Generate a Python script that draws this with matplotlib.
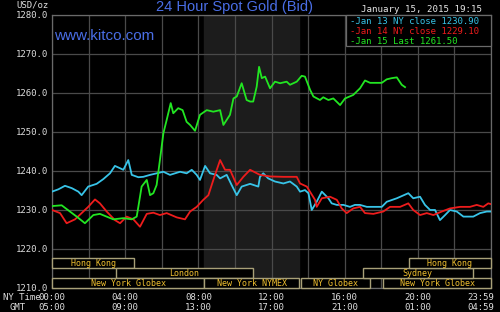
import matplotlib
matplotlib.use('Agg')
import matplotlib.pyplot as plt
from matplotlib.patches import Rectangle

# hours (NY time) and bid prices
cyan_h = [0.0, 0.35, 0.71, 1.08, 1.44, 1.62, 1.98, 2.44, 2.8, 3.17, 3.44, 3.72, 3.9, 4.17, 4.36,
          4.72, 4.99, 5.36, 5.72, 6.09, 6.45, 7.0, 7.36, 7.64, 7.91, 8.09, 8.37, 8.64, 9.0, 9.19,
          9.55, 9.82, 10.1, 10.37, 10.83, 11.28, 11.37, 11.55, 11.82, 12.19, 12.65, 13.01, 13.38, 13.56, 13.83,
          14.02, 14.2, 14.47, 14.75, 15.11, 15.29, 15.57, 15.93, 16.29, 16.56, 16.84, 17.21, 18.03, 18.3, 18.85,
          19.48, 19.75, 20.12, 20.39, 20.67, 20.94, 21.21, 21.49, 21.76, 22.13, 22.49, 23.03, 23.4, 23.77, 24.0]
cyan_v = [1234.7, 1235.3, 1236.2, 1235.6, 1234.7, 1233.8, 1236.0, 1236.7, 1237.9, 1239.4, 1241.3, 1240.7, 1240.3, 1242.8, 1239.0,
          1238.4, 1238.5, 1239.0, 1239.4, 1239.8, 1239.0, 1239.8, 1239.4, 1240.3, 1239.0, 1237.7, 1241.3, 1239.4, 1239.0, 1238.1,
          1239.0, 1236.4, 1233.8, 1236.0, 1236.7, 1236.0, 1238.5, 1239.4, 1238.1, 1237.3, 1236.8, 1237.3, 1236.0, 1234.7, 1235.1,
          1234.3, 1230.0, 1232.1, 1234.7, 1233.0, 1231.7, 1231.3, 1231.3, 1230.8, 1231.3, 1231.3, 1230.8, 1230.8, 1232.1, 1233.0,
          1234.3, 1233.0, 1233.4, 1231.3, 1230.0, 1230.0, 1227.4, 1228.7, 1230.0, 1229.6, 1228.3, 1228.3, 1229.2, 1229.6, 1229.6]

red_h = [0.0, 0.44, 0.8, 1.26, 1.71, 1.98, 2.35, 2.62, 2.99, 3.44, 3.72, 4.08, 4.45, 4.81, 5.18, 5.54,
         5.9, 6.27, 6.82, 7.27, 7.55, 7.91, 8.27, 8.55, 8.82, 9.19, 9.46, 9.73, 10.1, 10.46, 10.83, 11.37,
         11.92, 12.65, 13.38, 13.56, 13.93, 14.38, 14.47, 14.75, 15.2, 15.57, 15.84, 16.11, 16.47, 16.84, 17.11, 17.57,
         18.11, 18.48, 19.03, 19.48, 19.75, 20.12, 20.49, 20.85, 21.31, 21.76, 22.31, 22.85, 23.22, 23.58, 23.85, 24.0]
red_v = [1230.0, 1229.2, 1226.6, 1227.6, 1229.6, 1230.8, 1232.7, 1231.7, 1229.6, 1227.4, 1226.6, 1228.3, 1227.6, 1225.7, 1229.0, 1229.3,
         1228.7, 1229.2, 1228.1, 1227.6, 1229.6, 1230.8, 1232.6, 1233.8, 1237.7, 1242.8, 1240.3, 1240.3, 1236.4, 1238.5, 1240.3, 1239.0,
         1238.6, 1238.5, 1238.5, 1236.8, 1236.0, 1232.6, 1230.8, 1233.0, 1233.4, 1232.6, 1230.4, 1229.2, 1230.4, 1230.8, 1229.2, 1229.0,
         1229.6, 1230.8, 1230.8, 1231.7, 1230.0, 1228.7, 1229.2, 1228.7, 1229.6, 1230.4, 1230.8, 1230.8, 1231.3, 1230.8, 1231.7, 1231.5]

green_h = [0.0, 0.53, 0.98, 1.35, 1.8, 2.26, 2.62, 3.35, 3.9, 4.36, 4.63, 4.72, 4.9, 5.18, 5.36, 5.54, 5.72,
           5.9, 6.09, 6.27, 6.49, 6.63, 6.9, 7.14, 7.36, 7.55, 7.82, 8.09, 8.46, 8.82, 9.19, 9.37, 9.73,
           9.92, 10.1, 10.37, 10.64, 10.83, 11.0, 11.19, 11.32, 11.47, 11.65, 11.92, 12.19, 12.47, 12.83, 13.01, 13.38,
           13.65, 13.83, 14.11, 14.29, 14.65, 14.83, 15.11, 15.38, 15.75, 16.02, 16.47, 16.84, 17.11, 17.39, 18.03, 18.3,
           18.57, 18.85, 19.12, 19.3]
green_v = [1231.0, 1231.2, 1229.6, 1228.3, 1226.6, 1228.7, 1229.0, 1227.6, 1227.9, 1227.6, 1228.3, 1230.8, 1236.0, 1237.7, 1233.8, 1234.3, 1236.4,
           1242.8, 1249.7, 1253.1, 1257.4, 1254.8, 1256.1, 1255.6, 1252.6, 1251.8, 1250.3, 1254.4, 1255.6, 1255.2, 1255.6, 1251.8, 1254.4,
           1258.6, 1259.1, 1262.5, 1258.2, 1257.8, 1257.8, 1261.6, 1266.7, 1263.8, 1264.2, 1261.2, 1262.9, 1262.5, 1262.9, 1262.1, 1262.9,
           1264.4, 1264.2, 1260.8, 1259.1, 1258.2, 1258.9, 1258.2, 1258.6, 1256.9, 1258.6, 1259.5, 1261.2, 1263.2, 1262.6, 1262.6, 1263.5,
           1263.8, 1264.0, 1262.1, 1261.5]

legend_labels = ['-Jan 13 NY close 1230.90', '-Jan 14 NY close 1229.10', '-Jan 15 Last 1261.50']

# trading sessions: name, row (0 = bottom), start hour, end hour
sessions = [
    ('Hong Kong', 2, 0.0, 4.5),
    ('London', 1, 3.5, 11.0),
    ('New York Globex', 0, 0.0, 8.33),
    ('New York NYMEX', 0, 8.33, 13.5),
    ('NY Globex', 0, 13.62, 17.4),
    ('New York Globex', 0, 18.1, 24.0),
    ('Sydney', 1, 17.0, 23.0),
    ('Hong Kong', 2, 19.5, 24.0),
]
row_edges = [1210.0, 1212.55, 1215.1, 1217.65]

xtick_hours = [0, 4, 8, 12, 16, 20, 24]
xtick_ny = ['00:00', '04:00', '08:00', '12:00', '16:00', '20:00', '23:59']
xtick_gmt = ['05:00', '09:00', '13:00', '17:00', '21:00', '01:00', '04:59']

mono = 'DejaVu Sans Mono'
blue = '#4a6ee6'
cyan = '#38c4e8'
red = '#ee1c1c'
green = '#22e622'
gold = '#f0c030'
boxcol = '#a8a078'

fig = plt.figure(figsize=(5, 3.12), dpi=100, facecolor='black')
ax = fig.add_axes([0.104, 0.077, 0.878, 0.875])
ax.set_facecolor('black')

# NYMEX pit session shading
ax.axvspan(8.33, 13.5, color='#1c1c1c', zorder=0)

ax.plot(cyan_h, cyan_v, color=cyan, lw=1.3, zorder=3)
ax.plot(red_h, red_v, color=red, lw=1.3, zorder=4)
ax.plot(green_h, green_v, color=green, lw=1.3, zorder=5)

ax.set_xlim(0, 24)
ax.set_ylim(1210, 1280)
ax.set_xticks(range(0, 25, 2))
ax.set_xticklabels([''] * 13)
ax.set_yticks(range(1210, 1281, 10))
ax.set_yticklabels(['%.1f' % v for v in range(1210, 1281, 10)], family=mono, fontsize=6.5, color='#dddddd')
ax.tick_params(length=0, pad=3)
ax.grid(True, color='#4a4a4a', lw=0.9, zorder=1)
for s in ax.spines.values():
    s.set_color('#6a6a6a')
    s.set_linewidth(0.9)

for name, row, x0, x1 in sessions:
    y0, y1 = row_edges[row], row_edges[row + 1]
    ax.add_patch(Rectangle((x0, y0), x1 - x0, y1 - y0, facecolor='black', edgecolor=boxcol,
                           lw=1.0, zorder=6, clip_on=False))
    ax.text((x0 + x1) / 2, (y0 + y1) / 2, name, family=mono, fontsize=6, color=gold,
            ha='center', va='center', zorder=7)

# legend box in upper right
ax.add_patch(Rectangle((0.67, 0.886), 0.33, 0.114, transform=ax.transAxes, facecolor='black',
                       edgecolor='#6a6a6a', lw=0.9, zorder=8, clip_on=False))
for i, (lab, c) in enumerate(zip(legend_labels, [cyan, red, green])):
    fig.text(350 / 500, 1 - (21 + i * 10.5) / 312, lab, family=mono, fontsize=6.5, color=c,
             ha='left', va='center', zorder=9)

# x labels, two rows; the last pair is pulled in so it stays on the canvas
for h, ny, gmt in zip(xtick_hours, xtick_ny, xtick_gmt):
    px = 52 + h * 439 / 24
    if h == 24:
        px = 481
    xf = px / 500
    fig.text(xf, 1 - 297 / 312, ny, family=mono, fontsize=6.5, color='#dddddd', ha='center', va='center')
    fig.text(xf, 1 - 308 / 312, gmt, family=mono, fontsize=6.5, color='#dddddd', ha='center', va='center')
fig.text(3 / 500, 1 - 297 / 312, 'NY Time', family=mono, fontsize=6.5, color='#dddddd', ha='left', va='center')
fig.text(10 / 500, 1 - 308 / 312, 'GMT', family=mono, fontsize=6.5, color='#dddddd', ha='left', va='center')

fig.text(16 / 500, 1 - 5 / 312, 'USD/oz', family=mono, fontsize=6.5, color='#dddddd', ha='left', va='center')
fig.text(234 / 500, 1 - 7 / 312, '24 Hour Spot Gold (Bid)', family='Liberation Sans', fontsize=10.5,
         color=blue, ha='center', va='center')
fig.text(54 / 500, 1 - 36 / 312, 'www.kitco.com', family='Liberation Sans', fontsize=11,
         color=blue, ha='left', va='center', zorder=9)
fig.text(482 / 500, 1 - 10 / 312, 'January 15, 2015 19:15', family=mono, fontsize=6.6,
         color='#e6e6e6', ha='right', va='center')

fig.savefig('out.png', dpi=100, facecolor='black')
